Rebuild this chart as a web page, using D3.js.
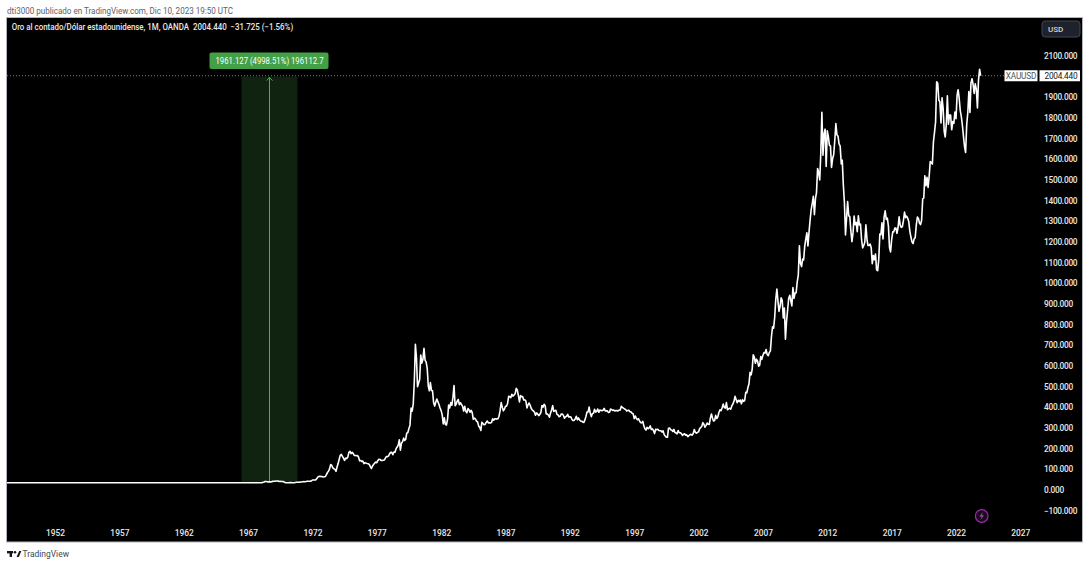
<!DOCTYPE html>
<html>
<head>
<meta charset="utf-8">
<script src="https://d3js.org/d3.v7.min.js"></script>
<style>
  body { margin: 0; background: #fff; }
  svg { display: block; font-family: Roboto, "Open Sans", sans-serif; }
</style>
</head>
<body>
<svg id="chart" width="1090" height="566"></svg>
<script>
// values (XAUUSD monthly closes)
var earlyYears = [1948, 1949, 1950, 1951, 1952, 1953, 1954, 1955, 1956, 1957,
                  1958, 1959, 1960, 1961, 1962, 1963, 1964, 1965, 1966, 1967];
var earlyPrices = [35.0, 35.0, 35.0, 35.0, 35.0, 35.0, 35.0, 35.0, 35.0, 35.0,
                   35.0, 35.0, 35.3, 35.2, 35.1, 35.1, 35.1, 35.1, 35.2, 35.2];

var monthlyStart = "1968-01-01";
var monthlyCloses = [
  35.2, 35.2, 37.5, 38.5, 41.0, 41.1, 39.5, 39.2, 39.9, 39.5, 40.0, 41.9,   // 1968
  42.5, 42.6, 43.2, 43.3, 43.5, 41.2, 41.8, 41.0, 40.9, 40.4, 37.4, 35.2,   // 1969
  34.9, 35.0, 35.1, 35.6, 36.0, 35.4, 35.3, 35.4, 36.2, 37.5, 37.4, 37.4,   // 1970
  37.9, 38.7, 38.9, 39.9, 40.4, 40.1, 41.0, 42.7, 42.0, 42.5, 42.9, 43.5,   // 1971
  48.3, 48.3, 48.4, 49.0, 54.6, 62.1, 65.7, 67.0, 65.5, 64.9, 62.9, 63.9,   // 1972
  65.1, 74.2, 84.4, 90.5, 102, 123, 120, 107, 103, 100, 90.0, 112,          // 1973
  129, 150, 168, 172, 163, 154, 143, 154, 152, 159, 182, 187,               // 1974
  176, 182, 177, 167, 167, 166, 167, 160, 141, 143, 138, 140,               // 1975
  128, 132, 130, 128, 127, 124, 113, 104, 116, 123, 130, 135,               // 1976
  132, 143, 149, 148, 143, 143, 144, 145, 154, 162, 161, 165,               // 1977
  176, 182, 182, 171, 184, 183, 200, 208, 217, 243, 193, 226,               // 1978
  234, 251, 240, 245, 275, 278, 297, 315, 397, 382, 416, 524,               // 1979
  705, 637, 500, 518, 535, 653, 614, 631, 686, 629, 619, 590,               // 1980
  502, 480, 520, 482, 480, 423, 406, 425, 440, 427, 414, 397,               // 1981
  384, 362, 320, 349, 317, 315, 342, 411, 397, 423, 410, 448,               // 1982
  505, 408, 415, 430, 438, 413, 422, 414, 405, 382, 405, 382,               // 1983
  373, 394, 388, 376, 385, 374, 342, 348, 343, 333, 329, 309,               // 1984
  303, 288, 328, 322, 316, 317, 327, 334, 325, 325, 324, 327,               // 1985
  345, 338, 344, 345, 343, 345, 357, 384, 423, 401, 383, 391,               // 1986
  405, 406, 419, 453, 452, 447, 463, 454, 460, 466, 492, 484,               // 1987
  458, 426, 457, 451, 452, 436, 437, 431, 397, 412, 421, 410,               // 1988
  394, 387, 383, 377, 362, 373, 368, 360, 366, 375, 409, 401,               // 1989
  415, 407, 368, 368, 363, 352, 372, 387, 408, 380, 384, 386,               // 1990
  366, 363, 355, 357, 367, 368, 362, 347, 354, 357, 366, 353,               // 1991
  354, 353, 341, 336, 337, 344, 357, 340, 349, 339, 334, 333,               // 1992
  329, 327, 338, 355, 377, 378, 401, 372, 355, 370, 371, 391,               // 1993
  377, 381, 392, 376, 387, 385, 384, 386, 395, 383, 383, 383,               // 1994
  375, 376, 392, 389, 385, 387, 383, 384, 384, 383, 387, 387,               // 1995
  405, 400, 396, 392, 390, 382, 385, 386, 379, 378, 371, 369,               // 1996
  345, 358, 348, 340, 345, 334, 326, 325, 332, 311, 296, 290,               // 1997
  303, 297, 301, 310, 293, 296, 288, 273, 294, 292, 294, 288,               // 1998
  287, 287, 280, 286, 268, 261, 255, 255, 299, 300, 292, 290,               // 1999
  283, 293, 278, 276, 272, 288, 277, 277, 273, 264, 270, 272,               // 2000
  265, 267, 258, 263, 267, 270, 265, 273, 293, 279, 275, 279,               // 2001
  282, 297, 302, 308, 326, 318, 304, 313, 324, 318, 317, 348,               // 2002
  368, 347, 334, 336, 361, 346, 354, 375, 388, 384, 398, 416,               // 2003
  399, 396, 423, 388, 393, 395, 391, 407, 416, 429, 453, 438,               // 2004
  422, 434, 428, 435, 417, 437, 429, 433, 473, 470, 496, 513,               // 2005
  569, 557, 582, 654, 643, 613, 633, 624, 599, 604, 646, 632,               // 2006
  652, 665, 662, 680, 656, 650, 665, 673, 744, 790, 783, 836,               // 2007
  924, 972, 916, 864, 887, 930, 918, 833, 880, 730, 815, 870,               // 2008
  928, 942, 917, 891, 979, 927, 953, 955, 1008, 1040, 1182, 1097,           // 2009
  1081, 1118, 1113, 1179, 1214, 1244, 1181, 1248, 1307, 1357, 1387, 1421,   // 2010
  1332, 1411, 1439, 1556, 1536, 1500, 1628, 1828, 1620, 1723, 1746, 1566,   // 2011
  1738, 1710, 1669, 1664, 1561, 1604, 1622, 1691, 1773, 1719, 1712, 1675,   // 2012
  1664, 1578, 1596, 1476, 1393, 1234, 1313, 1396, 1327, 1323, 1253, 1202,   // 2013
  1244, 1326, 1284, 1295, 1250, 1327, 1282, 1287, 1210, 1171, 1183, 1199,   // 2014
  1283, 1213, 1183, 1183, 1190, 1172, 1095, 1135, 1114, 1142, 1065, 1061,   // 2015
  1117, 1238, 1235, 1293, 1215, 1322, 1351, 1309, 1316, 1277, 1173, 1152,   // 2016
  1211, 1249, 1249, 1268, 1268, 1242, 1269, 1322, 1280, 1271, 1275, 1303,   // 2017
  1345, 1318, 1325, 1315, 1299, 1253, 1224, 1201, 1192, 1215, 1222, 1282,   // 2018
  1321, 1313, 1292, 1284, 1305, 1409, 1413, 1520, 1472, 1513, 1464, 1517,   // 2019
  1589, 1585, 1577, 1686, 1730, 1781, 1975, 1968, 1886, 1879, 1776, 1898,   // 2020
  1847, 1734, 1708, 1769, 1907, 1770, 1814, 1814, 1743, 1783, 1774, 1829,   // 2021
  1797, 1909, 1937, 1897, 1837, 1807, 1765, 1711, 1660, 1633, 1768, 1824,   // 2022
  1928, 1827, 1969, 1990, 1962, 1919, 1965, 1940, 1849, 1983, 2036, 2004.44 // 2023
];

var yearTicks = [1952, 1957, 1962, 1967, 1972, 1977, 1982, 1987, 1992, 1997,
                 2002, 2007, 2012, 2017, 2022, 2027];
var priceTicks = [-100, 0, 100, 200, 300, 400, 500, 600, 700, 800, 900, 1000, 1100,
                  1200, 1300, 1400, 1500, 1600, 1700, 1800, 1900, 2000, 2100];

var symbol = "XAUUSD";
var lastPrice = 2004.440;
var titleText = "Oro al contado/Dólar estadounidense, 1M, OANDA";
var changeText = "\u221231.725 (\u22121.56%)";
var headerText = "dti3000 publicado en TradingView.com, Dic 10, 2023 19:50 UTC";

// price range measurement
var measureFrom = "1966-07-01", measureTo = "1970-11-01";
var measureLow = 39.23, measureChange = 1961.127;
var measureLabel = "1961.127 (4998.51%) 196112.7";

var svg = d3.select("#chart");
var parse = d3.utcParse("%Y-%m-%d");

var points = earlyYears.map(function(yr, i) {
  return { date: new Date(Date.UTC(yr, 0, 1)), value: earlyPrices[i] };
});
var start = parse(monthlyStart);
monthlyCloses.forEach(function(v, i) {
  points.push({ date: d3.utcMonth.offset(start, i), value: v });
});

var x = d3.scaleUtc()
  .domain([new Date(Date.UTC(1952, 0, 1)), new Date(Date.UTC(2022, 0, 1))])
  .range([55, 956]);
var y = d3.scaleLinear().domain([0, 2100]).range([490, 56]);

// header + panel
svg.append("text").attr("x", 7).attr("y", 13.8)
  .attr("font-size", 8.5).attr("fill", "#5d606b")
  .attr("textLength", 226).attr("lengthAdjust", "spacingAndGlyphs").text(headerText);

svg.append("rect").attr("x", 6.5).attr("y", 17.5).attr("width", 1076).attr("height", 524.5)
  .attr("fill", "#000").attr("stroke", "#b2b5be");

svg.append("defs").append("clipPath").attr("id", "plot")
  .append("rect").attr("x", 7).attr("y", 18).attr("width", 1030).attr("height", 523);

// measurement box
var mx0 = x(parse(measureFrom)), mx1 = x(parse(measureTo));
var my0 = y(measureLow), my1 = y(measureLow + measureChange);
var mxc = (mx0 + mx1) / 2;
svg.append("rect").attr("x", mx0).attr("y", my1).attr("width", mx1 - mx0).attr("height", my0 - my1)
  .attr("fill", "rgba(76,175,80,0.2)");
svg.append("line").attr("x1", mxc).attr("x2", mxc).attr("y1", my0).attr("y2", my1 + 0.5)
  .attr("stroke", "#4caf50").attr("stroke-width", 1);
svg.append("path").attr("d", "M" + (mxc - 3) + "," + (my1 + 4) + "L" + mxc + "," + (my1 + 1) + "L" + (mxc + 3) + "," + (my1 + 4))
  .attr("fill", "none").attr("stroke", "#4caf50");

// last price dotted line
svg.append("line").attr("x1", 7).attr("x2", 1004).attr("y1", y(lastPrice)).attr("y2", y(lastPrice))
  .attr("stroke", "#9598a1").attr("stroke-width", 0.8).attr("stroke-dasharray", "1,2");

var lbl = svg.append("g");
lbl.append("rect").attr("x", 209.5).attr("y", 52.5).attr("width", 119).attr("height", 16.5).attr("rx", 2)
  .attr("fill", "#43a047");
lbl.append("text").attr("x", mxc - 54).attr("y", 64)
  .attr("font-size", 8.3).attr("fill", "#fff")
  .attr("textLength", 108).attr("lengthAdjust", "spacingAndGlyphs").text(measureLabel);

// price line
var line = d3.line().x(function(d) { return x(d.date); }).y(function(d) { return y(d.value); });
svg.append("path").datum(points).attr("clip-path", "url(#plot)")
  .attr("d", line).attr("fill", "none").attr("stroke", "#fff")
  .attr("stroke-width", 1.6).attr("stroke-linejoin", "round");

// title (one text run, double spaces kept)
svg.append("text").attr("x", 11.7).attr("y", 30.3)
  .attr("font-size", 8.6).attr("fill", "#e8e8e8").attr("font-weight", 500)
  .style("white-space", "pre")
  .attr("textLength", 281.5).attr("lengthAdjust", "spacingAndGlyphs")
  .text(titleText + "  " + d3.format(".3f")(lastPrice) + "  " + changeText);

// axes
var yAxis = d3.axisRight(y).tickValues(priceTicks).tickSize(0).tickPadding(0)
  .tickFormat(d3.format(".3f"));
var gy = svg.append("g").attr("transform", "translate(1044,0)").call(yAxis);
gy.select(".domain").remove();
gy.selectAll("text").attr("font-size", 8.3).attr("fill", "#e8e8e8")
  .attr("font-family", "Roboto, sans-serif").attr("font-weight", 500)
  .style("letter-spacing", "-0.25px");

var xAxis = d3.axisBottom(x)
  .tickValues(yearTicks.map(function(yr) { return new Date(Date.UTC(yr, 0, 1)); }))
  .tickSize(0).tickPadding(0).tickFormat(d3.utcFormat("%Y"));
var gx = svg.append("g").attr("transform", "translate(0,530)").call(xAxis);
gx.select(".domain").remove();
gx.selectAll("text").attr("font-size", 8.4).attr("fill", "#e8e8e8")
  .attr("font-family", "Roboto, sans-serif").attr("font-weight", 500);

// price label on the axis
var ly = y(lastPrice);
svg.append("rect").attr("x", 1004.5).attr("y", ly - 5.5).attr("width", 33).attr("height", 11)
  .attr("fill", "#fff");
svg.append("text").attr("x", 1021).attr("y", ly + 3)
  .attr("text-anchor", "middle").attr("font-size", 8.3).attr("fill", "#555")
  .style("letter-spacing", "-0.2px").text(symbol);
svg.append("rect").attr("x", 1039.5).attr("y", ly - 5.5).attr("width", 40.5).attr("height", 11)
  .attr("fill", "#fff");
svg.append("text").attr("x", 1044.5).attr("y", ly + 3)
  .attr("font-size", 8.3).attr("fill", "#131722").style("letter-spacing", "-0.25px")
  .text(d3.format(".3f")(lastPrice));

// currency button
svg.append("rect").attr("x", 1042).attr("y", 21).attr("width", 38).attr("height", 16).attr("rx", 3)
  .attr("fill", "#1e222d").attr("stroke", "#434651");
svg.append("text").attr("x", 1048).attr("y", 32).attr("font-size", 8)
  .attr("fill", "#d1d4dc").attr("font-weight", 500).text("USD");

// lightning badge
var bolt = svg.append("g").attr("transform", "translate(981.7,516)");
bolt.append("circle").attr("r", 6.3).attr("fill", "#1a0b1f").attr("stroke", "#9c27b0").attr("stroke-width", 1.2);
bolt.append("path").attr("d", "M1.2,-4 L-2.2,0.6 L-0.1,0.6 L-1.2,4 L2.2,-0.8 L0.1,-0.8 Z")
  .attr("fill", "#ab47bc");

// footer logo
var logo = svg.append("g").attr("fill", "#131722");
logo.append("rect").attr("x", 7).attr("y", 551).attr("width", 6).attr("height", 2.4);
logo.append("rect").attr("x", 9.6).attr("y", 551).attr("width", 2.4).attr("height", 6);
logo.append("circle").attr("cx", 15).attr("cy", 552.3).attr("r", 1.3);
logo.append("path").attr("d", "M16.6,557 L19.2,551 L21.4,551 L18.8,557 Z");
svg.append("text").attr("x", 22.5).attr("y", 557.3).attr("font-size", 8.3)
  .attr("fill", "#434651").attr("textLength", 46.5).attr("lengthAdjust", "spacingAndGlyphs")
  .text("TradingView");
</script>
</body>
</html>
